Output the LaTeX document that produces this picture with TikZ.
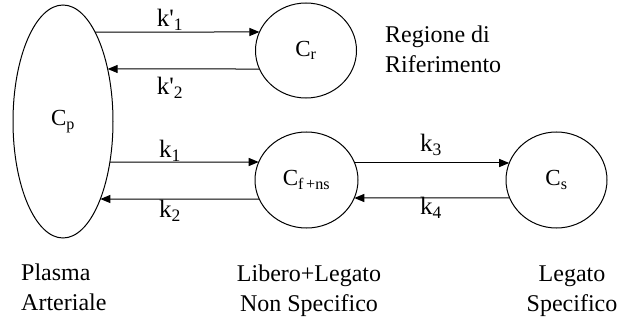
\documentclass[tikz,border=0pt]{standalone}
\usepackage{fontspec}
\setmainfont{Liberation Serif}
\usetikzlibrary{shapes.geometric,arrows.meta,intersections}
\newcommand\hconn[5]{%
  \path[name path=hl] (#4.center |- 0,#3) -- (#5.center |- 0,#3);
  \path[name intersections={of=#1 and hl, by={s}}];
  \path[name intersections={of=#2 and hl, by={e}}];
  \draw[arr] (s) -- (e);}
\begin{document}
\begin{tikzpicture}[x=1pt,y=-1pt,
  comp/.style={draw, ellipse, inner sep=0pt, line width=1pt, font=\fontsize{23}{26}\selectfont},
  arr/.style={-{Triangle[length=10pt,width=8pt]}, line width=1pt},
  klab/.style={font=\fontsize{25}{28}\selectfont, inner sep=0pt},
  txt/.style={font=\fontsize{24}{30}\selectfont, inner sep=0pt}]
\useasboundingbox (0,0) rectangle (619,321);
\node[comp, minimum width=100pt, minimum height=233pt] (cp) at (63,121.5) {C\textsubscript{p}};
\node[comp, minimum width=101pt, minimum height=95pt] (cr) at (306,50.5) {C\textsubscript{r}};
\node[comp, minimum width=103pt, minimum height=96pt] (cf) at (306.5,180) {C\textsubscript{f\,+ns}};
\node[comp, minimum width=101pt, minimum height=96pt] (cs) at (556.5,180) {C\textsubscript{s}};
\path[name path=cpP] (cp.center) ellipse [x radius=50pt, y radius=116.5pt];
\path[name path=crP] (cr.center) ellipse [x radius=50.5pt, y radius=47.5pt];
\path[name path=cfP] (cf.center) ellipse [x radius=51.5pt, y radius=48pt];
\path[name path=csP] (cs.center) ellipse [x radius=50.5pt, y radius=48pt];
\hconn{cpP}{crP}{32}{cp}{cr}
\hconn{crP}{cpP}{69}{cr}{cp}
\hconn{cpP}{cfP}{162}{cp}{cf}
\hconn{cfP}{cpP}{199}{cf}{cp}
\hconn{cfP}{csP}{163}{cf}{cs}
\hconn{csP}{cfP}{198}{cs}{cf}
\node[klab] (k1p) at (170,20) {k\textquotesingle\textsubscript{1}};
\node[klab] (k2p) at (170,88) {k\textquotesingle\textsubscript{2}};
\node[klab] (k1) at (170,151) {k\textsubscript{1}};
\node[klab] (k2) at (170,211) {k\textsubscript{2}};
\node[klab] (k3) at (431,145) {k\textsubscript{3}};
\node[klab] (k4) at (431,208) {k\textsubscript{4}};
\node[txt, align=left, anchor=north west] (reg) at (385,26) {Regione di\\Riferimento};
\node[txt, align=left, anchor=north west] (pla) at (21,264) {Plasma\\Arteriale};
\node[txt, align=center, anchor=north] (lib) at (309,264.5) {Libero+Legato\\Non Specifico};
\node[txt, align=center, anchor=north] (leg) at (572,266) {Legato\\Specifico};
\end{tikzpicture}
\end{document}
